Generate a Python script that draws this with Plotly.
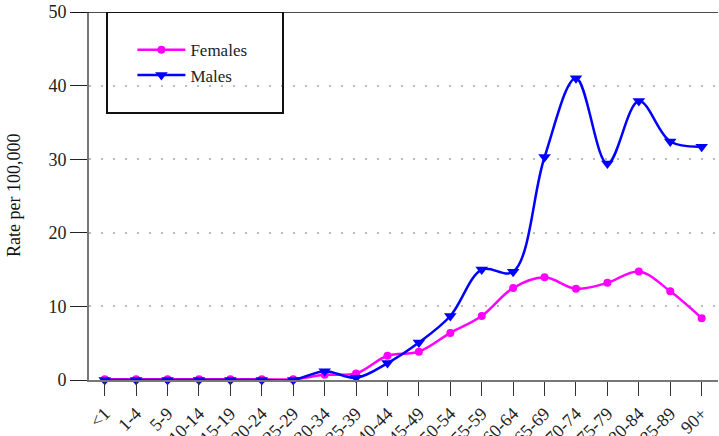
import plotly.graph_objects as go

ages = ["<1", "1-4", "5-9", "10-14", "15-19", "20-24", "25-29", "30-34", "35-39",
        "40-44", "45-49", "50-54", "55-59", "60-64", "65-69", "70-74", "75-79",
        "80-84", "85-89", "90+"]
females = [0.1, 0.1, 0.1, 0.1, 0.1, 0.1, 0.1, 0.7, 0.9, 3.3, 3.85, 6.4, 8.7, 12.5,
           13.95, 12.4, 13.2, 14.75, 12.05, 8.4]
males = [0, 0, 0, 0, 0, 0, 0, 1.2, 0.3, 2.3, 5.1, 8.7, 15.0, 14.7, 30.3, 41.0,
         29.4, 37.9, 32.4, 31.7]
y_ticks = [0, 10, 20, 30, 40, 50]

FONT = "Liberation Serif"
xi = list(range(len(ages)))

W, H = 719, 436
ML, MR, MT, MB = 89, 1, 12, 56
PW = W - ML - MR

fig = go.Figure()
fig.add_trace(go.Scatter(
    x=xi, y=females, name="Females", mode="lines+markers",
    line=dict(color="#FF00FF", width=2.5, shape="spline", smoothing=1),
    marker=dict(symbol="circle", size=8, color="#FF00FF"),
    cliponaxis=False))
fig.add_trace(go.Scatter(
    x=xi, y=males, name="Males", mode="lines+markers",
    line=dict(color="#0000FF", width=2.5, shape="spline", smoothing=1),
    marker=dict(symbol="triangle-down", size=11, color="#0000FF"),
    cliponaxis=False))

fig.update_layout(
    width=W, height=H,
    margin=dict(l=ML, r=MR, t=MT, b=MB, autoexpand=False),
    paper_bgcolor="white", plot_bgcolor="white",
    font=dict(family=FONT, color="#222", size=14),
    showlegend=True,
    legend=dict(x=0.069, y=0.945, xanchor="left", yanchor="top",
                bgcolor="rgba(0,0,0,0)", borderwidth=0, itemwidth=48,
                font=dict(family=FONT, size=17, color="#222")),
    xaxis=dict(
        range=[-0.5, 19.52], tickmode="array", tickvals=xi, ticktext=ages,
        tickangle=-45, ticks="outside", ticklen=14, tickcolor="#333",
        showline=True, linecolor="#777", linewidth=2, showgrid=False,
        zeroline=False, automargin=False,
        tickfont=dict(family=FONT, size=18, color="#222")),
    yaxis=dict(
        range=[0, 50], tickmode="array", tickvals=y_ticks,
        ticks="outside", ticklen=17, tickcolor="#222",
        showline=True, linecolor="#777", linewidth=2,
        showgrid=True, gridcolor="#BBBBBB", griddash="2px,10px", gridwidth=1.5,
        zeroline=False, automargin=False,
        tickfont=dict(family=FONT, size=18, color="#222")),
    annotations=[dict(text="Rate per 100,000", xref="paper", yref="paper",
                      x=(14 - ML) / PW, y=0.5, textangle=-90, showarrow=False,
                      xanchor="center", yanchor="middle",
                      font=dict(family=FONT, size=18, color="#111"))],
)

# top frame line at y=50
fig.add_shape(type="line", xref="paper", yref="y", x0=-17 / PW, x1=1, y0=50, y1=50,
              line=dict(color="#111", width=1.5))
# legend box
fig.add_shape(type="rect", xref="paper", yref="y", x0=18 / PW, x1=194 / PW, y0=36.28, y1=50,
              line=dict(color="#111", width=2))

fig.write_html("out.html", config={"displayModeBar": False},
               post_script="document.body.style.margin='0';document.body.style.overflow='hidden';")
